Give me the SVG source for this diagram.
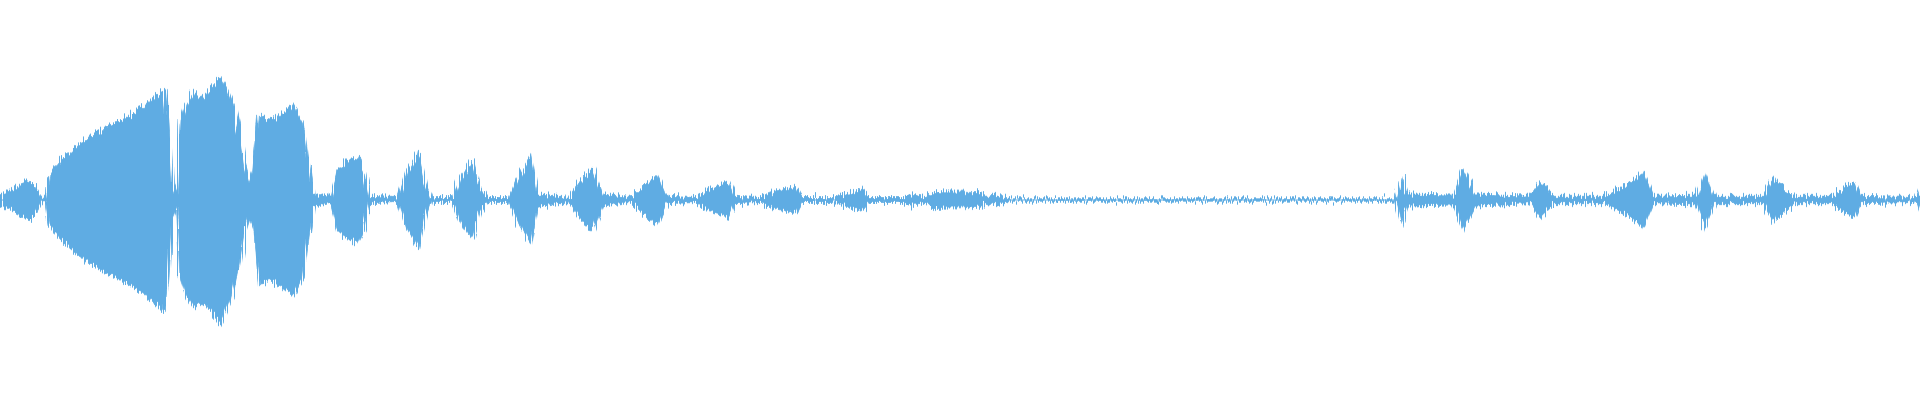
<svg xmlns="http://www.w3.org/2000/svg" width="1920" height="400" viewBox="0 0 1920 400">
<style>.w{fill:#5eace3;stroke:#5eace3;stroke-width:0.6}</style>
<defs>
<filter id="jag" x="-2%" y="-20%" width="104%" height="140%">
<feTurbulence type="fractalNoise" baseFrequency="0.9 0.004" numOctaves="2" seed="3" result="n"/>
<feDisplacementMap in="SourceGraphic" in2="n" scale="14" xChannelSelector="A" yChannelSelector="R"/>
</filter>
</defs>
<rect width="1920" height="400" fill="#ffffff"/>
<g id="waveform">
<line x1="0" y1="200" x2="1920" y2="200" stroke="#5eace3" stroke-width="1.2"/>
<g filter="url(#jag)">
<polygon class="w" transform="scale(1.2245,1.227)" points="0,158 10,155 18,149 24,147 30,153 34,160 37,163 40,143 50,130 60,121 70,113 85,105 100,97 115,88 125,80 135,72 138,100 141,150 144,158 147,100 152,85 158,75 165,80 172,72 180,63 184,70 190,85 196,110 200,135 204,148 207,140 212,93 220,98 230,92 240,85 248,100 252,130 256,158 270,160 276,138 284,131 292,128 298,140 302,160 325,161 332,140 342,123 348,150 352,161 370,161 376,145 386,130 392,152 398,161 415,161 422,146 434,126 440,158 465,161 472,150 484,136 492,158 515,161 522,154 537,142 545,160 568,161 576,156 595,148 600,160 622,161 628,157 650,152 655,161 680,161 705,154 710,161 738,161 745,158 755,161 762,156 800,157 805,160 815,159 825,162 1140,162 1145,143 1150,158 1187,159 1195,138 1205,158 1250,160 1258,148 1268,160 1310,160 1330,150 1342,140 1350,160 1385,159 1392,140 1400,160 1440,160 1448,145 1465,160 1495,160 1515,148 1520,160 1565,161 1568,153 1568,173 1565,165 1520,166 1515,178 1495,166 1465,166 1448,181 1440,166 1400,166 1392,186 1385,167 1350,166 1342,186 1330,176 1310,166 1268,166 1258,178 1250,166 1205,168 1195,188 1187,167 1150,168 1145,183 1140,164 825,164 815,167 805,166 800,169 762,170 755,165 745,168 738,165 710,165 705,172 680,165 655,165 650,174 628,169 622,165 600,166 595,178 576,170 568,165 545,166 537,184 522,172 515,165 492,168 484,190 472,176 465,165 440,168 434,200 422,180 415,165 398,165 392,174 386,196 376,181 370,165 352,165 348,176 342,203 332,186 325,165 302,166 298,186 292,198 284,195 276,188 270,166 256,168 252,196 248,226 240,241 230,234 220,228 212,233 207,186 204,178 200,191 196,216 190,241 184,256 180,265 172,254 165,246 158,251 152,241 147,226 144,168 141,176 138,226 135,254 125,246 115,238 100,229 85,221 70,213 60,205 50,196 40,183 37,163 34,166 30,173 24,179 18,177 10,171 0,168"/>
</g>
</g>
</svg>
